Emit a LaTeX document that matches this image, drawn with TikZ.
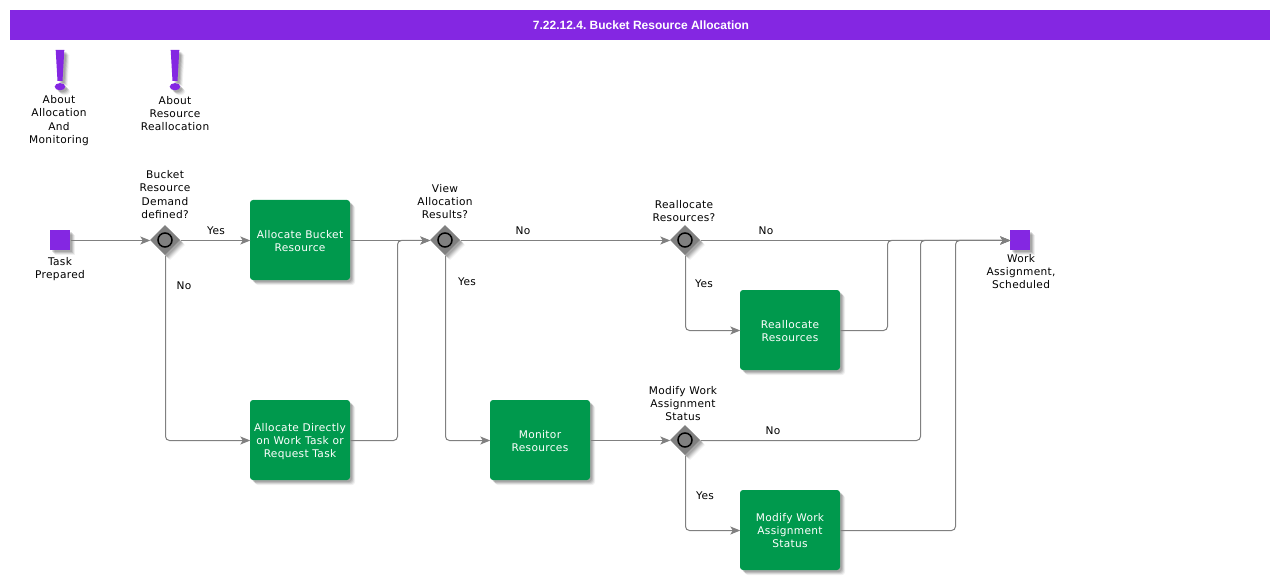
\documentclass[tikz,border=0pt]{standalone}
\usepackage{fontspec}
\setmainfont[LetterSpace=3]{DejaVu Sans}
\newfontfamily\titlefont[Ligatures=TeX]{Liberation Sans}
\usetikzlibrary{arrows.meta,shapes.geometric}
\definecolor{vio}{HTML}{8427E2}
\definecolor{grn}{HTML}{00994D}
\definecolor{lin}{HTML}{808080}
\tikzset{
 softshadow/.style={
  preaction={draw=none,fill=black,fill opacity=.06,transform canvas={shift={(5pt,-5pt)}}},
  preaction={draw=none,fill=black,fill opacity=.09,transform canvas={shift={(4pt,-4pt)}}},
  preaction={draw=none,fill=black,fill opacity=.12,transform canvas={shift={(3pt,-3pt)}}},
  preaction={draw=none,fill=black,fill opacity=.12,transform canvas={shift={(2pt,-2pt)}}}},
 halfpx/.style={transform canvas={shift={(.5pt,-.5pt)}}},
 lbl/.style={align=center,inner sep=0pt,yshift=-1pt,font=\fontsize{10.6}{13}\selectfont,text=black},
 taskbox/.style={rectangle,rounded corners=3pt,fill=grn,minimum width=100pt,minimum height=80pt,inner sep=0pt,align=center,text=white,font=\fontsize{10.6}{13}\selectfont,softshadow},
 evt/.style={rectangle,fill=vio,minimum width=20pt,minimum height=20pt,inner sep=0pt,softshadow},
 gate/.style={diamond,fill=lin,minimum width=30pt,minimum height=30pt,inner sep=0pt,softshadow},
 ring/.style={circle,draw=black,line width=1.5pt,fill=lin,minimum size=14pt,inner sep=0pt},
 conn/.style={draw=lin,line width=1pt,rounded corners=4pt,halfpx},
 arr/.style={conn,-{Stealth[length=10pt,width=8pt,inset=2.5pt]}},
}
\newcommand{\tasktext}[1]{\raisebox{-2pt}[\height][\depth]{\begin{tabular}{@{}c@{}}#1\end{tabular}}}
\setlength{\tabcolsep}{0pt}
\begin{document}
\begin{tikzpicture}[x=1pt,y=-1pt]
\useasboundingbox (0,0) rectangle (1280,580);
\fill[white] (0,0) rectangle (1280,580);
\node[rectangle,fill=vio,minimum width=1260pt,minimum height=30pt,inner sep=0pt] (title) at (640,25) {};
\node[text=white,inner sep=0pt,font=\titlefont\fontsize{12}{13}\selectfont\bfseries\frenchspacing] (titletext) at (641,25) {7.22.12.4. Bucket Resource Allocation};
% exclamation marks
\foreach \cx in {60,175}{
 \fill[softshadow,vio] (\cx-4.3,50) -- (\cx+4.3,50) -- (\cx+2.5,81) -- (\cx-2.5,81) -- cycle;
 \fill[softshadow,vio] (\cx,86.7) ellipse [x radius=5.3pt,y radius=3.6pt];
}
\node[lbl,font=\fontsize{10.6}{13.3}\selectfont] (n1) at (59,119.5) {About\\Allocation\\And\\Monitoring};
\node[lbl] (n2) at (175,112.5) {About\\Resource\\Reallocation};
% nodes
\node[evt] (start) at (60,240) {};
\node[evt] (end) at (1020,240) {};
\node[gate] (g1) at (165,240) {};
\node[gate] (g2) at (445,240) {};
\node[gate] (g3) at (685,240) {};
\node[gate] (g4) at (685,440) {};
\foreach \g in {g1,g2,g3,g4} \node[ring] (r\g) at (\g) {};
\node[taskbox] (a1) at (300,240) {\tasktext{Allocate Bucket\\Resource}};
\node[taskbox] (a2) at (300,440) {\tasktext{Allocate Directly\\on Work Task or\\Request Task}};
\node[taskbox] (mon) at (540,440) {\tasktext{Monitor\\Resources}};
\node[taskbox] (rea) at (790,330) {\tasktext{Reallocate\\Resources}};
\node[taskbox] (mod) at (790,530) {\tasktext{Modify Work\\Assignment\\Status}};
% labels
\node[lbl] (t1) at (60,268.5) {Task\\Prepared};
\node[lbl,font=\fontsize{10.6}{13.3}\selectfont] (t2) at (165,193.5) {Bucket\\Resource\\Demand\\defined?};
\node[lbl] (t3) at (445,201) {View\\Allocation\\Results?};
\node[lbl] (t4) at (684,210) {Reallocate\\Resources?};
\node[lbl] (t5) at (683,403) {Modify Work\\Assignment\\Status};
\node[lbl] (t6) at (1021,271) {Work\\Assignment,\\Scheduled};
\node[lbl] (y1) at (216,230) {Yes};
\node[lbl] (x1) at (184,285) {No};
\node[lbl] (x2) at (523,230) {No};
\node[lbl] (y2) at (467,281) {Yes};
\node[lbl] (x3) at (766,230) {No};
\node[lbl] (y3) at (704,283) {Yes};
\node[lbl] (x4) at (773,430) {No};
\node[lbl] (y4) at (705,495) {Yes};
% connectors
\draw[arr] (start.east) -- (g1.west);
\draw[arr] (g1.east) -- (a1.west);
\draw[arr] (g1.south) |- (a2.west);
\draw[arr] (a1.east) -- (g2.west);
\draw[arr] (a2.east) -- (397,440) -- (397,240) -- (g2.west);
\draw[arr] (g2.east) -- (g3.west);
\draw[arr] (g2.south) |- (mon.west);
\draw[arr] (mon.east) -- (g4.west);
\draw[arr] (g3.east) -- (end.west);
\draw[arr] (g3.south) |- (rea.west);
\draw[arr] (g4.south) |- (mod.west);
\draw[arr] (rea.east) -- (887,330) -- (887,240) -- (end.west);
\draw[arr] (g4.east) -- (920,440) -- (920,240) -- (end.west);
\draw[arr] (mod.east) -- (955,530) -- (955,240) -- (end.west);
\end{tikzpicture}
\end{document}
